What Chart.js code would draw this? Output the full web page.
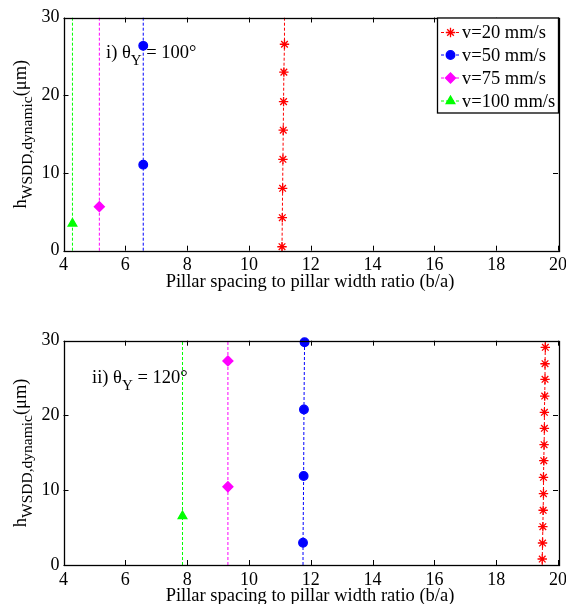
<!DOCTYPE html>
<html>
<head>
<meta charset="utf-8">
<script src="https://cdn.jsdelivr.net/npm/chart.js@4.4.1/dist/chart.umd.min.js"></script>
<style>
  html, body { margin: 0; padding: 0; background: #fff; }
  #wrap { position: relative; width: 566px; height: 604px; }
  #c1 { position: absolute; left: 0; top: 0; }
  #c2 { position: absolute; left: 0; top: 300px; }
</style>
</head>
<body>
<div id="wrap">
  <canvas id="c1" width="566" height="300" style="width:566px;height:300px"></canvas>
  <canvas id="c2" width="566" height="304" style="width:566px;height:304px"></canvas>
</div>
<script>
// axis limits
var X_MIN = 4, X_MAX = 20, Y_MIN = 0, Y_MAX = 30;
var speedLabels = ["v=20 mm/s", "v=50 mm/s", "v=75 mm/s", "v=100 mm/s"];

// i) theta_Y = 100 deg
var i_v20_x = [11.07, 11.08, 11.09, 11.10, 11.11, 11.12, 11.13, 11.15];
var i_v20_y = [0.51, 4.25, 8.03, 11.76, 15.5, 19.18, 22.97, 26.56];
var i_v50_x = [6.58, 6.58];
var i_v50_y = [11.07, 26.35];
var i_v75_x = [5.16];
var i_v75_y = [5.66];
var i_v100_x = [4.29];
var i_v100_y = [3.5];

// ii) theta_Y = 120 deg
var ii_v20_x = [19.49, 19.50, 19.51, 19.52, 19.53, 19.53, 19.54, 19.55, 19.56, 19.56, 19.57, 19.58, 19.58, 19.59];
var ii_v20_y = [0.80, 2.94, 5.12, 7.32, 9.54, 11.73, 13.95, 16.09, 18.28, 20.42, 22.6, 24.84, 26.92, 29.12];
var ii_v50_x = [11.75, 11.77, 11.78, 11.80];
var ii_v50_y = [2.98, 11.9, 20.8, 29.8];
var ii_v75_x = [9.32, 9.32];
var ii_v75_y = [10.47, 27.3];
var ii_v100_x = [7.85];
var ii_v100_y = [6.55];

var FONT = "'Liberation Serif', 'Times New Roman', serif";

var styles = [
  { color: "#ff0000", pointStyle: "star", radius: 4.7, fill: false },
  { color: "#0000ff", pointStyle: "circle", radius: 4.3, fill: true },
  { color: "#ff00ff", pointStyle: "rectRot", radius: 5, fill: true },
  { color: "#00ff00", pointStyle: "triangle", radius: 5, fill: true }
];

// vertical line runs across the whole y range, markers only at the data points
function series(xs, ys) {
  var pts = [{ x: xs[0], y: Y_MIN }];
  for (var k = 0; k < xs.length; k++) pts.push({ x: xs[k], y: ys[k] });
  pts.push({ x: xs[xs.length - 1], y: Y_MAX });
  return pts;
}

function makeDatasets(list) {
  return list.map(function (d, n) {
    var s = styles[n];
    return {
      label: speedLabels[n],
      data: series(d[0], d[1]),
      borderColor: s.color,
      backgroundColor: s.fill ? s.color : "transparent",
      pointBorderColor: s.color,
      pointBackgroundColor: s.fill ? s.color : "transparent",
      borderWidth: 1,
      borderDash: [3, 2],
      pointStyle: s.pointStyle,
      pointBorderWidth: 1.3,
      pointRadius: function (ctx) {
        var r = ctx.raw;
        return r && (r.y === Y_MIN || r.y === Y_MAX) ? 0 : s.radius;
      },
      tension: 0,
      clip: false
    };
  });
}

// frame and inward ticks, like the matlab look
var framePlugin = {
  id: "frame",
  afterDraw: function (chart) {
    var c = chart.ctx, a = chart.chartArea;
    var xs = chart.scales.x, ys = chart.scales.y;
    c.save();
    c.strokeStyle = "#000";
    c.lineWidth = 1;
    c.beginPath();
    xs.ticks.forEach(function (t) {
      var px = Math.round(xs.getPixelForValue(t.value)) + 0.5;
      c.moveTo(px, a.bottom); c.lineTo(px, a.bottom - 5);
      c.moveTo(px, a.top); c.lineTo(px, a.top + 5);
    });
    ys.ticks.forEach(function (t) {
      var py = Math.round(ys.getPixelForValue(t.value)) + 0.5;
      c.moveTo(a.left, py); c.lineTo(a.left + 5, py);
      c.moveTo(a.right, py); c.lineTo(a.right - 5, py);
    });
    c.stroke();
    c.lineWidth = 1.3;
    c.strokeRect(Math.round(a.left) + 0.5, Math.round(a.top) + 0.5,
      Math.round(a.right - a.left), Math.round(a.bottom - a.top));
    c.restore();
  }
};

// text pieces with sub scripts, drawn left to right
function drawRich(c, parts, x, y) {
  parts.forEach(function (p) {
    c.font = p.size + "px " + FONT;
    c.fillText(p.t, x, y + (p.dy || 0));
    x += c.measureText(p.t).width;
  });
}
function richWidth(c, parts) {
  var w = 0;
  parts.forEach(function (p) {
    c.font = p.size + "px " + FONT;
    w += c.measureText(p.t).width;
  });
  return w;
}

var yTitleParts = [
  { t: "h", size: 18.5 },
  { t: "WSDD,dynamic", size: 15.5, dy: 6 },
  { t: "(\u03bcm)", size: 18.5 }
];
var xTitle = "Pillar spacing to pillar width ratio (b/a)";

function textPlugin(label) {
  return {
    id: "texts",
    afterDraw: function (chart) {
      var c = chart.ctx, a = chart.chartArea;
      c.save();
      c.fillStyle = "#000";
      c.textBaseline = "alphabetic";
      // x title
      c.font = "18.5px " + FONT;
      c.textAlign = "center";
      c.fillText(xTitle, 310, a.bottom + 36);
      c.textAlign = "left";
      // y title, rotated
      var w = richWidth(c, yTitleParts);
      c.translate(26, (a.top + a.bottom) / 2);
      c.rotate(-Math.PI / 2);
      drawRich(c, yTitleParts, -w / 2, 0);
      c.setTransform(1, 0, 0, 1, 0, 0);
      // panel label
      drawRich(c, label.parts, label.x, a.top + label.dy);
      c.restore();
    }
  };
}

var legendPlugin = {
  id: "boxLegend",
  afterDraw: function (chart) {
    var c = chart.ctx, a = chart.chartArea;
    var left = 437.5, top = a.top, bottom = 112.5, right = 558.5;
    c.save();
    c.fillStyle = "#fff";
    c.fillRect(left, top, right - left, bottom - top);
    c.strokeStyle = "#000";
    c.lineWidth = 1.3;
    c.strokeRect(left, top + 0.5, right - left, bottom - top);
    var rows = [32.5, 55, 78, 101];
    chart.data.datasets.forEach(function (ds, n) {
      var s = styles[n], y = rows[n];
      c.strokeStyle = s.color;
      c.lineWidth = 1;
      c.setLineDash([3, 2]);
      c.beginPath();
      c.moveTo(441, y); c.lineTo(460, y);
      c.stroke();
      c.setLineDash([]);
      c.fillStyle = s.fill ? s.color : "transparent";
      c.lineWidth = 1.3;
      Chart.helpers.drawPoint(c, { pointStyle: s.pointStyle, radius: s.radius, borderWidth: 1.3, rotation: 0 }, 450.5, y);
      c.fillStyle = "#000";
      c.font = "18.5px " + FONT;
      c.textBaseline = "middle";
      c.fillText(ds.label, 462, y + 1);
    });
    c.restore();
  }
};

function makeChart(id, datasets, padTop, canvasH, bottomPx, label, extra) {
  var plugins = [framePlugin, textPlugin(label)];
  if (extra) plugins.push(extra);
  return new Chart(document.getElementById(id).getContext("2d"), {
    type: "line",
    data: { datasets: datasets },
    options: {
      responsive: false,
      animation: false,
      layout: { padding: { top: padTop, right: 8, left: 0, bottom: 0 } },
      plugins: { legend: { display: false }, tooltip: { enabled: false } },
      scales: {
        x: {
          type: "linear", min: X_MIN, max: X_MAX,
          grid: { display: false, drawTicks: false },
          border: { display: false },
          ticks: { stepSize: 2, color: "#000", padding: 4, maxRotation: 0, font: { family: FONT, size: 18 } },
          afterFit: function (s) { s.height = canvasH - bottomPx; s.paddingLeft = 0; s.paddingRight = 0; }
        },
        y: {
          type: "linear", min: Y_MIN, max: Y_MAX,
          grid: { display: false, drawTicks: false },
          border: { display: false },
          ticks: { stepSize: 10, color: "#000", padding: 4, font: { family: FONT, size: 18 } },
          afterFit: function (s) { s.width = 63.5; s.paddingTop = 0; s.paddingBottom = 0; }
        }
      }
    },
    plugins: plugins
  });
}

makeChart("c1",
  makeDatasets([[i_v20_x, i_v20_y], [i_v50_x, i_v50_y], [i_v75_x, i_v75_y], [i_v100_x, i_v100_y]]),
  17.5, 300, 250.7,
  { x: 106, dy: 40, parts: [{ t: "i) \u03b8", size: 18.5 }, { t: "Y", size: 15, dy: 7 }, { t: " = 100\u00b0", size: 18.5 }] },
  legendPlugin);

makeChart("c2",
  makeDatasets([[ii_v20_x, ii_v20_y], [ii_v50_x, ii_v50_y], [ii_v75_x, ii_v75_y], [ii_v100_x, ii_v100_y]]),
  40.7, 304, 265,
  { x: 92, dy: 42, parts: [{ t: "ii) \u03b8", size: 18.5 }, { t: "Y", size: 15, dy: 7 }, { t: " = 120\u00b0", size: 18.5 }] },
  null);
</script>
</body>
</html>
